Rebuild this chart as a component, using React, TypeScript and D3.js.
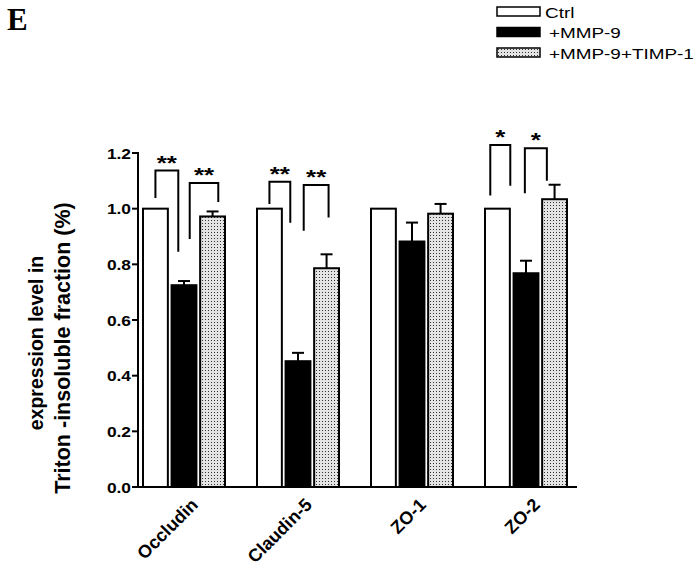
import React from "react";
import * as d3 from "d3";

const categories = ["Occludin", "Claudin-5", "ZO-1", "ZO-2"];
const seriesNames = ["Ctrl", "+MMP-9", "+MMP-9+TIMP-1"];
const ctrlValues = [1.0, 1.0, 1.0, 1.0];
const mmpValues = [0.725, 0.452, 0.882, 0.768];
const mmpErr = [0.015, 0.03, 0.068, 0.045];
const timpValues = [0.972, 0.786, 0.982, 1.034];
const timpErr = [0.018, 0.05, 0.035, 0.052];
const ctrlErr = [0, 0, 0, 0];
const yTicks = [0.0, 0.2, 0.4, 0.6, 0.8, 1.0, 1.2];

// significance brackets: group, x1/x2 in series units (0=Ctrl bar,1=MMP-9,2=TIMP-1), top, left bottom, right bottom
const brackets = [
  { g: "Occludin", x1: 0, x2: 0.8, top: 1.137, b1: 1.038, b2: 0.845, label: "**" },
  { g: "Occludin", x1: 1.2, x2: 2.2, top: 1.092, b1: 0.891, b2: 1.024, label: "**" },
  { g: "Claudin-5", x1: 0, x2: 0.73, top: 1.097, b1: 1.017, b2: 0.949, label: "**" },
  { g: "Claudin-5", x1: 1.2, x2: 2.07, top: 1.085, b1: 0.921, b2: 0.968, label: "**" },
  { g: "ZO-2", x1: -0.25, x2: 0.45, top: 1.229, b1: 1.047, b2: 1.082, label: "*" },
  { g: "ZO-2", x1: 0.96, x2: 1.73, top: 1.217, b1: 1.055, b2: 1.1, label: "*" },
];

const W = 699;
const H = 568;
const axisLeft = 138;
const axisRight = 577;
const y0 = 487;
const yTop = 153;

export default function App() {
  const x = d3.scalePoint<string>().domain(categories).range([184, 526]);
  const xs = d3.scaleBand<string>().domain(seriesNames).range([-41, 41]).paddingInner(0.13);
  const y = d3.scaleLinear().domain([0, 1.2]).range([y0, yTop]);
  const bw = xs.bandwidth();
  const step = xs.step();
  const valuesBySeries = [ctrlValues, mmpValues, timpValues];
  const errBySeries = [ctrlErr, mmpErr, timpErr];
  const fills = ["#ffffff", "#000000", "url(#dots)"];
  const font = "'Liberation Sans', Arial, sans-serif";
  const seriesX = (g: string, u: number) => (x(g) as number) + (xs(seriesNames[0]) as number) + bw / 2 + u * step;

  return (
    <svg width={W} height={H} style={{ position: "absolute", left: 0, top: 0, background: "#fff" }}>
      <defs>
        <pattern id="dots" width="3" height="3" patternUnits="userSpaceOnUse">
          <rect width="3" height="3" fill="#e4e4e4" />
          <rect x="1" y="1" width="1" height="1" fill="#333" />
        </pattern>
      </defs>
      <rect width={W} height={H} fill="#fff" />
      <text x={7} y={30} fontFamily="'Liberation Serif', 'Times New Roman', serif" fontWeight="bold" fontSize={31}>E</text>

      {/* legend */}
      {seriesNames.map((s, i) => (
        <g key={s} transform={`translate(497, ${7 + i * 20.5})`}>
          <rect x={0} y={0} width={43} height={9} fill={fills[i]} stroke="#000" strokeWidth={1.5} />
          <text transform={`translate(${i === 0 ? 48 : 52}, 10.5) scale(1.22, 1)`} fontFamily={font} fontSize={15.5}>{s}</text>
        </g>
      ))}

      {/* bars */}
      {categories.map((c, ci) => (
        <g key={c}>
          {seriesNames.map((s, si) => {
            const v = valuesBySeries[si][ci];
            const e = errBySeries[si][ci];
            const bx = (x(c) as number) + (xs(s) as number);
            const cx = bx + bw / 2;
            return (
              <g key={s}>
                {e > 0 && (
                  <g stroke="#000" strokeWidth={2}>
                    <line x1={cx} x2={cx} y1={y(v)} y2={y(v + e)} />
                    <line x1={cx - 6} x2={cx + 6} y1={y(v + e)} y2={y(v + e)} />
                  </g>
                )}
                <rect x={bx} y={y(v)} width={bw} height={y0 - y(v)} fill={fills[si]} stroke="#000" strokeWidth={2} />
              </g>
            );
          })}
        </g>
      ))}

      {/* brackets */}
      {brackets.map((b, i) => {
        const xa = seriesX(b.g, b.x1);
        const xb = seriesX(b.g, b.x2);
        return (
          <g key={i}>
            <path
              d={`M${xa},${y(b.b1)}V${y(b.top)}H${xb}V${y(b.b2)}`}
              fill="none"
              stroke="#000"
              strokeWidth={2}
            />
            <text
              transform={`translate(${(xa + xb) / 2}, ${y(b.top) - 1}) scale(1.3, 1)`}
              textAnchor="middle"
              fontFamily={font}
              fontWeight="bold"
              fontSize={20}
            >
              {b.label}
            </text>
          </g>
        );
      })}

      {/* y axis */}
      <line x1={axisLeft} x2={axisLeft} y1={yTop - 1} y2={y0 + 1} stroke="#000" strokeWidth={2} />
      {yTicks.map((t) => (
        <g key={t}>
          <line x1={axisLeft - 6} x2={axisLeft} y1={y(t)} y2={y(t)} stroke="#000" strokeWidth={2} />
          <text transform={`translate(${axisLeft - 7}, ${y(t) + 5.5}) scale(1.12, 1)`} textAnchor="end" fontFamily={font} fontWeight="bold" fontSize={15.5}>
            {d3.format(".1f")(t)}
          </text>
        </g>
      ))}
      {/* x axis */}
      <line x1={axisLeft - 1} x2={axisRight} y1={y0} y2={y0} stroke="#000" strokeWidth={2} />
      {categories.map((c) => (
        <text
          key={c}
          transform={`translate(${(x(c) as number) + 15}, 506) rotate(-45)`}
          textAnchor="end"
          fontFamily={font}
          fontWeight="bold"
          fontSize={18}
        >
          {c}
        </text>
      ))}

      {/* y label */}
      <g transform={`translate(43, 343) rotate(-90)`}>
        <text x={0} y={0} textAnchor="middle" fontFamily={font} fontWeight="bold" fontSize={19.5}>expression level in</text>
        <text x={-5} y={27} textAnchor="middle" fontFamily={font} fontWeight="bold" fontSize={21.5}>Triton -insoluble fraction (%)</text>
      </g>
    </svg>
  );
}
